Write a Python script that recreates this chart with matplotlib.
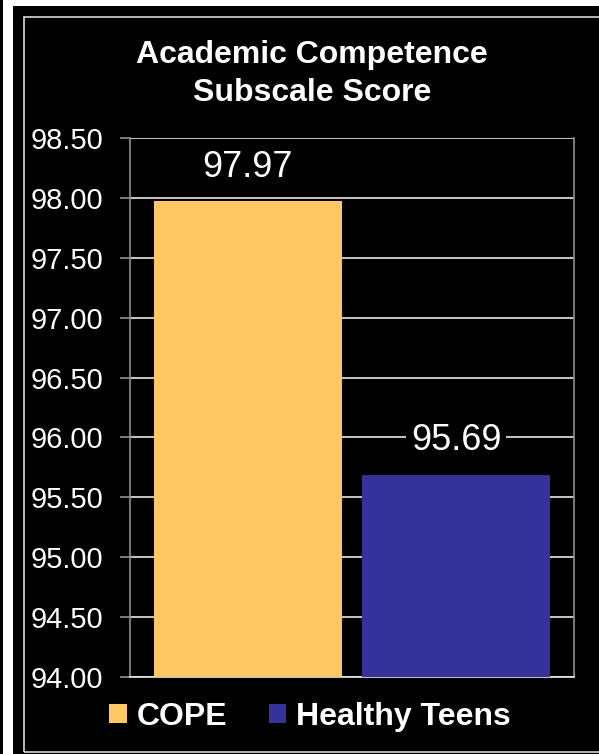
import matplotlib.pyplot as plt
from matplotlib.patches import Rectangle

plt.rcParams['font.family'] = ['Liberation Sans', 'DejaVu Sans']

groups = ['COPE', 'Healthy Teens']
scores = [97.97, 95.69]
colors = ['#FDC862', '#333399']
yticks = [94.0, 94.5, 95.0, 95.5, 96.0, 96.5, 97.0, 97.5, 98.0, 98.5]

W, H = 599, 754
fig = plt.figure(figsize=(W / 100, H / 100), dpi=100, facecolor='white')

# black panel + thin white frame (pixel coords converted to figure fractions)
def box(x0, y0, x1, y1, **kw):
    fig.patches.append(Rectangle((x0 / W, 1 - y1 / H), (x1 - x0) / W, (y1 - y0) / H,
                                 transform=fig.transFigure, zorder=-5, **kw))

box(0, 0, 3, H, facecolor='black', edgecolor='none')
box(13, 6, W, H, facecolor='black', edgecolor='none')
box(23.5, 17, W + 5, 752, facecolor='none', edgecolor='#d8d8d8', lw=1.2)

ax = fig.add_axes([130 / W, 1 - 677 / H, 444 / W, (677 - 138) / H])
ax.set_facecolor('black')

x = [0, 1]
bars = ax.bar(x, scores, width=0.9, color=colors, zorder=3)

ax.set_ylim(94.0, 98.5)
ax.set_xlim(-0.567, 1.567)
ax.set_yticks(yticks)
ax.set_yticklabels(['%.2f' % t for t in yticks])
ax.set_xticks([])
ax.grid(axis='y', color='#e8e8e8', lw=1.2, zorder=1)
ax.tick_params(axis='y', colors='#909090', length=7, width=1.2, pad=12,
               labelcolor='white', labelsize=21)
for s in ['left', 'right', 'top']:
    ax.spines[s].set_color('#909090')
    ax.spines[s].set_linewidth(1.2)
ax.spines['top'].set_visible(False)
ax.spines['bottom'].set_color('#e8e8e8')
ax.spines['bottom'].set_linewidth(1.2)

for xi, v in zip(x, scores):
    ax.annotate('%.2f' % v, (xi, v), xytext=(0, 12), textcoords='offset points',
                ha='center', va='bottom', color='white', fontsize=26, zorder=4,
                bbox=dict(facecolor='black', edgecolor='none', pad=3))

fig.text(312 / W, 1 - 74 / H, 'Academic Competence\nSubscale Score', ha='center',
         va='center', color='white', fontsize=23, fontweight='bold', linespacing=1.35)

leg = fig.legend(bars, groups, loc='center', bbox_to_anchor=(310 / W, 1 - 717 / H),
                 ncol=2, frameon=False, handlelength=0.55, handleheight=0.55,
                 handletextpad=0.3, columnspacing=1.3,
                 prop={'size': 23, 'weight': 'bold'})
for t in leg.get_texts():
    t.set_color('white')

fig.savefig('out.png', dpi=100, facecolor='white')
